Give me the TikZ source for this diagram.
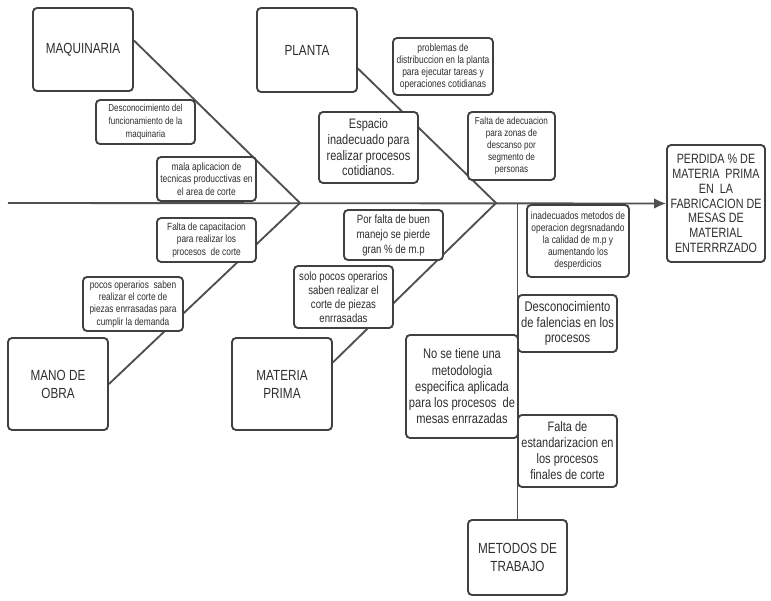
\documentclass[tikz,border=0pt]{standalone}
\usepackage{fontspec}
\setmainfont{Liberation Sans}[FakeStretch=0.8]
\usepackage{tikz}
\usetikzlibrary{arrows.meta, calc, positioning, backgrounds}

\definecolor{borde}{HTML}{404040}
\definecolor{linea}{HTML}{505050}
\definecolor{texto}{HTML}{2E2E2E}

\tikzset{
  caja/.style={draw=borde, line width=1.4pt, rounded corners=3pt, fill=white,
    text=texto, align=center, inner sep=1pt},
  tam/.style 2 args={minimum width=#1*0.75pt, minimum height=#2*0.75pt},
  txt/.style 2 args={font=\fontsize{#1}{#2}\selectfont},
  rama/.style={draw=linea, line width=1.4pt}
}

\begin{document}
\begin{tikzpicture}[>={Latex[length=9pt,width=8pt]}, x=0.75pt, y=-0.75pt]
        % marco
        \useasboundingbox (0,0) rectangle (771,600);

        % categorias
        \node[caja, tam={100}{83}, txt={11}{13.5}] (maq) at (83,49.5) {MAQUINARIA};
        \node[caja, tam={100}{84}, txt={11}{13.5}] (pla) at (307,50) {PLANTA};
        \node[caja, tam={100}{92}, txt={11}{13.5}] (mano) at (58,384) {MANO DE\\OBRA};
        \node[caja, tam={100}{92}, txt={11}{13.5}] (mat) at (282,384) {MATERIA\\PRIMA};
        \node[caja, tam={99}{75}, txt={11}{13.5}] (met) at (517.5,557.5) {METODOS DE\\TRABAJO};

        % efecto
        \node[caja, tam={98}{117}, txt={10.1}{11.1}] (efecto) at (716,203.5)
          {PERDIDA \% DE\\MATERIA\ \ PRIMA\\EN\ \ LA\\FABRICACION DE\\MESAS DE\\MATERIAL\\ENTERRRZADO};

        % espina y ramas
        \coordinate (cola) at (8,203);
        \coordinate (v1) at (300,203);
        \coordinate (v2) at (496,203);
        \begin{scope}[on background layer]
          \draw[rama, ->] (cola) -- (efecto.west);
          \draw[rama] (maq.10) -- (v1) -- (mano.east);
          \draw[rama] (pla.-20) -- (v2) -- (mat.23);
          \draw[rama] (met.north) -- (met.north |- v2);
        \end{scope}

        % causas maquinaria / mano de obra
        \node[caja, tam={99}{44}, txt={7.5}{10}] (c1) at (145.5,122)
          {Desconocimiento del\\funcionamiento de la\\maquinaria};
        \node[caja, tam={99}{44}, txt={7.9}{9.4}] (c2) at (206.5,179)
          {mala aplicacion de\\tecnicas producctivas en\\el area de corte};
        \node[caja, tam={99}{44}, txt={7.8}{9.4}] (c3) at (206.5,240)
          {Falta de capacitacion\\para realizar los\\procesos\ \ de corte};
        \node[caja, tam={100}{54}, txt={7.8}{9.2}] (c4) at (133,304)
          {pocos operarios\ \ saben\\realizar el corte de\\piezas enrrasadas para\\cumplir la demanda};

        % causas planta / materia prima
        \node[caja, tam={100}{57}, txt={7.9}{9}] (c5) at (443,66.5)
          {problemas de\\distribuccion en la planta\\para ejecutar tareas y\\operaciones cotidianas};
        \node[caja, tam={99}{71}, txt={10.3}{11.75}] (c6) at (368.5,147.5)
          {Espacio\\inadecuado para\\realizar procesos\\cotidianos.};
        \node[caja, tam={87}{68}, txt={7.6}{9}] (c7) at (511.5,146)
          {Falta de adecuacion\\para zonas de\\descanso por\\segmento de\\personas};
        \node[caja, tam={99}{50}, txt={9}{11.25}] (c8) at (393.5,235)
          {Por falta de buen\\manejo se pierde\\gran \% de m.p};
        \node[caja, tam={99}{62}, txt={9}{10.4}] (c9) at (343.5,297)
          {solo pocos operarios\\saben realizar el\\corte de piezas\\enrrasadas};

        % causas metodos de trabajo
        \node[caja, tam={102}{72}, txt={7.9}{9}] (c10) at (578,241)
          {inadecuados metodos de\\operacion degrsnadando\\la calidad de m.p y\\aumentando los\\desperdicios};
        \node[caja, tam={99}{57}, txt={10.5}{11.5}] (c11) at (567.5,323.5)
          {Desconocimiento\\de falencias en los\\procesos};
        \node[caja, tam={112}{103}, txt={10.4}{12.2}] (c12) at (462,386.5)
          {No se tiene una\\metodologia\\especifica aplicada\\para los procesos\ \ de\\mesas enrrazadas};
        \node[caja, tam={99}{72}, txt={10.3}{12}] (c13) at (567.5,451)
          {Falta de\\estandarizacion en\\los procesos\\finales de corte};

    \end{tikzpicture}
\end{document}
